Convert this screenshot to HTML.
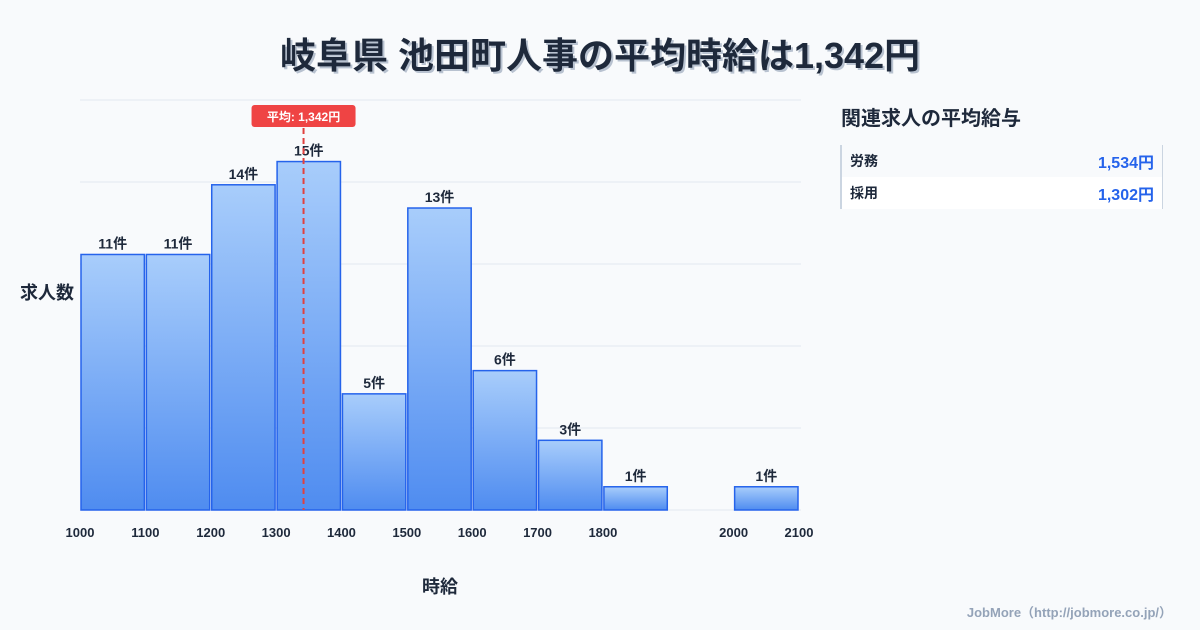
<!DOCTYPE html>
<html><head><meta charset="utf-8">
<style>
body{margin:0;width:1200px;height:630px;background:#f8fafc;font-family:"Liberation Sans","Noto Sans CJK JP",sans-serif;overflow:hidden;position:relative;color:#1e293b}
.title{position:absolute;left:0;top:27px;width:1200px;text-align:center;font-size:36px;font-weight:bold;color:#1e293b;text-shadow:2px 2px 0 #b8c2d0}
.panel-title{position:absolute;left:841px;top:102px;font-size:20px;font-weight:bold}
.tbl{position:absolute;left:840px;top:145px;width:320px;border-left:2px solid #cbd5e1;border-right:1px solid #cbd5e1}
.row{height:32px;display:flex;justify-content:space-between;align-items:center;padding:0 8px;font-size:14px;font-weight:bold}
.row .v{color:#2563eb;font-size:16px}
.footer{position:absolute;right:28px;top:602px;font-size:13px;font-weight:bold;color:#94a3b8}
</style></head><body>
<div class="title">岐阜県 池田町人事の平均時給は1,342円</div>
<svg id="chart" width="1200" height="630" style="position:absolute;left:0;top:0"></svg>
<div class="panel-title">関連求人の平均給与</div>
<div class="tbl">
<div class="row" style="background:#f8fafc"><span>労務</span><span class="v">1,534円</span></div>
<div class="row" style="background:#fff"><span>採用</span><span class="v">1,302円</span></div>
</div>
<div class="footer">JobMore（http://jobmore.co.jp/）</div>
<script>
const binStarts=[1000,1100,1200,1300,1400,1500,1600,1700,1800,1900,2000];
const counts=[11,11,14,15,5,13,6,3,1,0,1];
const tickLabels=[1000,1100,1200,1300,1400,1500,1600,1700,1800,2000,2100];
const avgValue=1342;
const svg=document.getElementById('chart');
const NS='http://www.w3.org/2000/svg';
const x0=80,x1=799,yBase=510,yTop=100,yMax=17.65;
const xs=v=>x0+(v-1000)/(2100-1000)*(x1-x0);
const ys=v=>yBase-v/yMax*(yBase-yTop);
function mk(t,a,p){const e=document.createElementNS(NS,t);for(const k in a)e.setAttribute(k,a[k]);(p||svg).appendChild(e);return e;}
const defs=mk('defs',{});
const g=mk('linearGradient',{id:'bg',x1:0,y1:0,x2:0,y2:1},defs);
mk('stop',{offset:'0','stop-color':'#a8cdfb'},g);mk('stop',{offset:'1','stop-color':'#4f8cf0'},g);
for(let i=0;i<=5;i++){const y=yBase-i*(yBase-yTop)/5;const l=mk('line',{x1:x0,x2:x1+2,y1:y,y2:y,stroke:'#e2e8f0','stroke-width':1});

}
binStarts.forEach((b,i)=>{const c=counts[i];if(!c)return;
const xa=xs(b)+1,xb=xs(b+100)-1,y=ys(c);
const r=mk('rect',{x:xa,y:y,width:xb-xa,height:yBase-y,fill:'url(#bg)',stroke:'#2563eb','stroke-width':1.5});


const t=mk('text',{x:(xa+xb)/2,y:y-6,'text-anchor':'middle','font-size':14,'font-weight':'bold',fill:'#1e293b'});t.textContent=c+'件';

});
tickLabels.forEach(v=>{const t=mk('text',{x:xs(v),y:537,'text-anchor':'middle','font-size':13,'font-weight':'bold',fill:'#1e293b'});t.textContent=v;

});
const ax=xs(avgValue);
const al=mk('line',{x1:ax,x2:ax,y1:128,y2:yBase,stroke:'#e0413f','stroke-width':2,'stroke-dasharray':'6,4'});


const ab=mk('rect',{x:ax-52,y:105,width:104,height:22,rx:3,fill:'#ef4444'});


const at=mk('text',{x:ax,y:121,'text-anchor':'middle','font-size':12,'font-weight':'bold',fill:'#fff'});at.textContent='平均: 1,342円';


const yt=mk('text',{x:20,y:299,'font-size':18,'font-weight':'bold',fill:'#1e293b'});yt.textContent='求人数';


const xt=mk('text',{x:440,y:593,'text-anchor':'middle','font-size':18,'font-weight':'bold',fill:'#1e293b'});xt.textContent='時給';


</script>
</body></html>
